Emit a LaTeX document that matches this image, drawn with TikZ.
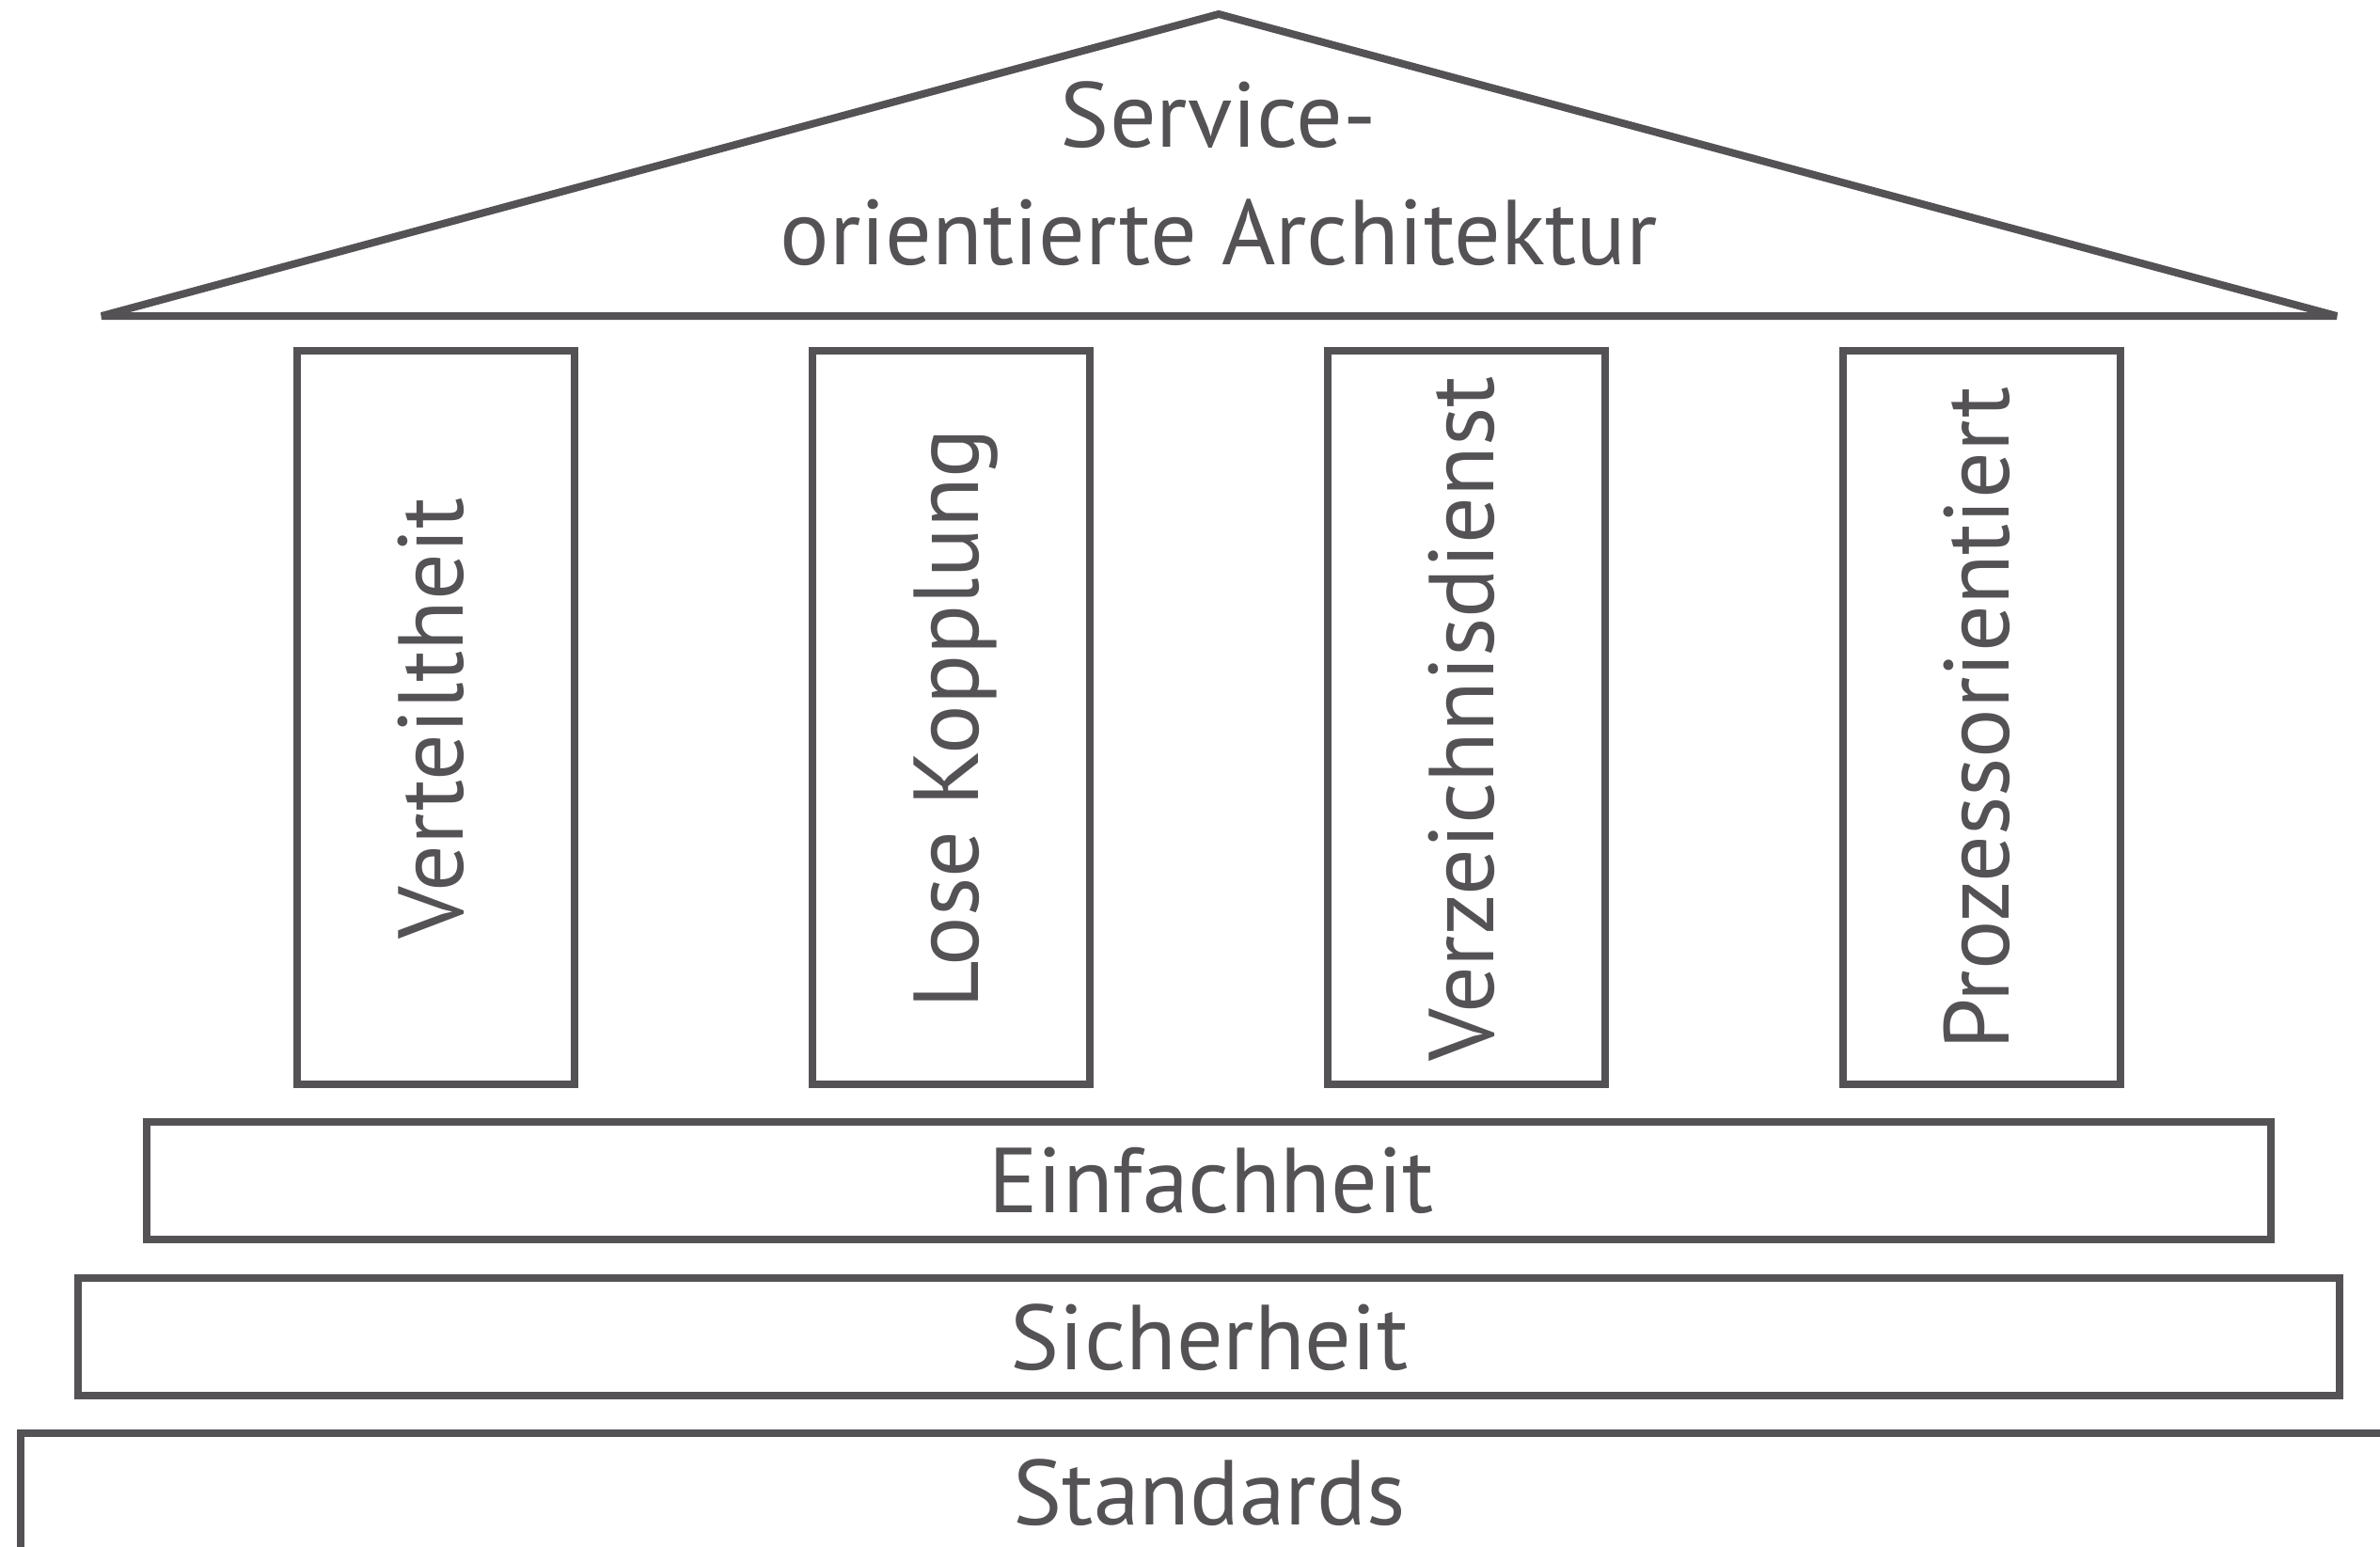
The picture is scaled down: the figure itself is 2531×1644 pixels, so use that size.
\documentclass[tikz,border=0pt]{standalone}
\usepackage{fontspec}
\setmainfont{PT Sans}
\definecolor{ink}{RGB}{84,82,85}
\begin{document}
\begin{tikzpicture}[x=0.01cm,y=-0.01cm,
  frame/.style={draw=ink,line width=0.08cm},
  label/.style={text=ink,inner sep=0pt,anchor=base,font=\fontsize{27.9}{33}\selectfont},
  pillarlabel/.style={label,rotate=90}]
\useasboundingbox (0,0) rectangle (2531,1644);

% roof
\draw[frame,line join=bevel] (108,336) -- (1296,15) -- (2485,336) -- cycle;
\node[label] (roof1) at (1296,156) {Service-};
\node[label] (roof2) at (1296,281) {orientierte Architektur};

% pillars
\foreach \i/\t in {0/Verteiltheit,1/Lose Kopplung,2/Verzeichnisdienst,3/Prozessorientiert}{
  \draw[frame] (316+548*\i,373) rectangle ++(295,780);
  \node[pillarlabel] (pillar\i) at (492+548*\i,764) {\t};
}

% steps
\draw[frame] (156,1193) rectangle (2415,1318);
\node[label] (einfach) at (1288,1289) {Einfachheit};
\draw[frame] (83,1359) rectangle (2488,1484);
\node[label] (sicher) at (1286,1456) {Sicherheit};
\draw[frame] (22,1700) -- (22,1524) -- (2600,1524);
\node[label] (standards) at (1286,1621) {Standards};
\end{tikzpicture}
\end{document}
